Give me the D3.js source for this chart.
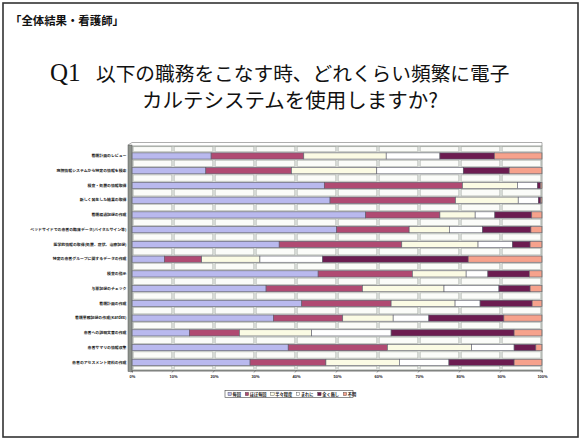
<!DOCTYPE html>
<html>
<head>
<meta charset="utf-8">
<script src="https://cdn.jsdelivr.net/npm/d3@7/dist/d3.min.js"></script>
<style>
  html, body { margin: 0; padding: 0; background: #fff; }
  svg { display: block; }
</style>
</head>
<body>
<svg id="chart" width="582" height="447"></svg>
<script>
// Tasks asked about (top to bottom)
const categories = [
  "看護計画のレビュー",
  "病院情報システムから特定の情報を検索",
  "検査・処置の情報取得",
  "新しく発生した結果の取得",
  "看護経過記録の作成",
  "ベッドサイドでの患者の臨床データ(バイタルサイン等)",
  "医学的情報の取得(処置、症状、治療記録)",
  "特定の患者グループに関するデータの作成",
  "検査の指示",
  "与薬記録のチェック",
  "看護計画の作成",
  "看護業務記録の作成(Kardex)",
  "患者への説明文書の作成",
  "患者サマリの情報収集",
  "患者のアセスメント資料の作成"
];

// Answer shares (%) per frequency, one array per answer
const seriesNames = ["毎回", "ほぼ毎回", "半々程度", "まれに", "全く無し", "不明"];
const everyTime    = [19.3, 18.0, 46.9, 48.3, 57.0, 49.9, 35.9,  7.9, 45.4, 32.7, 41.4, 34.5, 14.0, 38.1, 28.8];
const almostAlways = [22.6, 20.9, 33.7, 30.6, 18.1, 17.7, 29.9,  9.1, 23.0, 23.5, 21.8, 16.9, 12.2, 24.2, 18.5];
const halfTheTime  = [20.1, 20.8, 13.4, 15.3,  8.6,  9.8, 18.6, 14.2, 13.1, 19.9, 15.6, 12.3, 17.6, 20.5, 17.9];
const rarely       = [13.1, 21.1,  4.9,  4.9,  4.8,  8.1,  8.4, 15.3,  5.3, 13.4,  6.1,  8.7, 19.4, 10.4, 12.1];
const never        = [13.3, 11.2,  0.7,  0.6,  9.0, 11.8,  4.3, 35.5, 10.1,  7.6, 12.7, 18.3, 30.0,  5.3, 15.9];
const unknown      = [11.6,  8.0,  0.4,  0.3,  2.5,  2.7,  2.9, 18.0,  3.1,  2.9,  2.4,  9.3,  6.8,  1.5,  6.8];
const seriesValues = [everyTime, almostAlways, halfTheTime, rarely, never, unknown];
const seriesColors = ["#b9b9ee", "#b04a72", "#fbfbe4", "#ffffff", "#6c1c50", "#f6a28c"];

const tickValues = [0, 0.1, 0.2, 0.3, 0.4, 0.5, 0.6, 0.7, 0.8, 0.9, 1.0];

const svg = d3.select("#chart");
const CJK = "'Noto Sans CJK JP', 'Noto Sans', sans-serif";

// Slide frame
svg.append("rect")
  .attr("x", 3).attr("y", 3).attr("width", 575).attr("height", 434)
  .attr("fill", "#fff").attr("stroke", "#333").attr("stroke-width", 1.6);

// Headline
svg.append("text")
  .attr("x", 10).attr("y", 25)
  .attr("font-family", CJK).attr("font-size", 11.4).attr("font-weight", 700)
  .attr("fill", "#111")
  .text("「全体結果・看護師」");

// Question title
const title = svg.append("text")
  .attr("font-family", CJK).attr("fill", "#111");
title.append("tspan").attr("x", 50).attr("y", 81)
  .attr("font-family", "'Liberation Serif', serif").attr("font-size", 25).text("Q1");
title.append("tspan").attr("x", 96).attr("y", 81).attr("font-size", 19.7)
  .text("以下の職務をこなす時、どれくらい頻繁に電子");
svg.append("text")
  .attr("x", 290).attr("y", 108).attr("text-anchor", "middle")
  .attr("font-family", CJK).attr("font-size", 20.5).attr("fill", "#111")
  .text("カルテシステムを使用しますか?");

// Scales
const x = d3.scaleLinear().domain([0, 1]).range([132, 542]);
const y = d3.scaleBand().domain(categories).range([148.6, 369.7])
  .paddingInner(0.58).paddingOuter(0.29);

// Stack rows of the table built from the series arrays
const rows = categories.map((c, i) => {
  const r = { category: c };
  seriesNames.forEach((s, k) => { r[s] = seriesValues[k][i]; });
  return r;
});
const stacked = d3.stack().keys(seriesNames).offset(d3.stackOffsetExpand)(rows);

// Plot back wall
const plotTop = 146, plotBottom = 370.5;
svg.append("rect")
  .attr("x", x(0)).attr("y", plotTop)
  .attr("width", x(1) - x(0)).attr("height", plotBottom - plotTop)
  .attr("fill", "#d9ddd8");

// Light cells between bars, split by the 10% gridlines
const bw = y.bandwidth();
const gapEdges = [];
gapEdges.push([plotTop + 0.8, y(categories[0]) - 1.2]);
for (let i = 0; i < categories.length - 1; i++) {
  gapEdges.push([y(categories[i]) + bw + 1.2, y(categories[i + 1]) - 1.2]);
}
gapEdges.push([y(categories[categories.length - 1]) + bw + 1.2, plotBottom - 0.8]);
const cells = [];
gapEdges.forEach(([a, b]) => {
  for (let k = 0; k < 10; k++) cells.push({ y0: a, y1: b, v0: tickValues[k], v1: tickValues[k + 1] });
});
svg.append("g").selectAll("rect").data(cells).join("rect")
  .attr("x", d => x(d.v0) + 1.2)
  .attr("y", d => d.y0)
  .attr("width", d => x(d.v1) - x(d.v0) - 2.4)
  .attr("height", d => Math.max(0, d.y1 - d.y0))
  .attr("fill", "#fbfcf9").attr("stroke", "#a9aea8").attr("stroke-width", 0.5);

// Left side wall
svg.append("rect")
  .attr("x", x(0) - 4).attr("y", plotTop - 1).attr("width", 4).attr("height", plotBottom - plotTop + 2)
  .attr("fill", "#8e938d").attr("stroke", "#555").attr("stroke-width", 0.5);
svg.append("path")
  .attr("d", `M${x(0) - 4},${plotTop - 1} L${x(0)},${plotTop - 3.5} L${x(1)},${plotTop - 3.5} L${x(1)},${plotTop}`)
  .attr("fill", "none").attr("stroke", "#777").attr("stroke-width", 0.6);

// Stacked bars
svg.append("g").selectAll("g").data(stacked).join("g")
  .attr("fill", (d, i) => seriesColors[i])
  .selectAll("rect").data(d => d).join("rect")
  .attr("x", d => x(d[0]))
  .attr("y", d => y(d.data.category))
  .attr("width", d => Math.max(0, x(d[1]) - x(d[0])))
  .attr("height", bw)
  .attr("stroke", "#5c5c6a").attr("stroke-width", 0.6);

// Plot outline
svg.append("rect")
  .attr("x", x(0)).attr("y", plotTop)
  .attr("width", x(1) - x(0)).attr("height", plotBottom - plotTop)
  .attr("fill", "none").attr("stroke", "#7d827c").attr("stroke-width", 0.7);

// Category axis
const yAxis = svg.append("g")
  .attr("transform", `translate(${x(0) - 4},0)`)
  .call(d3.axisLeft(y).tickSize(0).tickPadding(1.5));
yAxis.select(".domain").remove();
yAxis.selectAll("text")
  .attr("font-family", CJK).attr("font-size", 3.9).attr("font-weight", 700).attr("fill", "#222");

// Percentage axis
const xAxis = svg.append("g")
  .attr("transform", `translate(0,${plotBottom})`)
  .call(d3.axisBottom(x).tickValues(tickValues).tickFormat(d3.format(".0%")).tickSize(2).tickPadding(3));
xAxis.select(".domain").attr("stroke", "#555").attr("stroke-width", 0.8);
xAxis.selectAll(".tick line").attr("stroke", "#555").attr("stroke-width", 0.6)
  .attr("x2", -1.5);
xAxis.selectAll("text")
  .attr("font-family", "'Liberation Sans', sans-serif").attr("font-size", 4).attr("font-weight", 700).attr("fill", "#222");

// Legend
const legend = svg.append("g").attr("transform", "translate(225,390.5)");
legend.append("rect").attr("width", 128).attr("height", 7)
  .attr("fill", "#fff").attr("stroke", "#444").attr("stroke-width", 0.6);
let lx = 3;
seriesNames.forEach((name, i) => {
  legend.append("rect").attr("x", lx).attr("y", 1.8).attr("width", 3.4).attr("height", 3.4)
    .attr("fill", seriesColors[i]).attr("stroke", "#444").attr("stroke-width", 0.4);
  const t = legend.append("text").attr("x", lx + 4.6).attr("y", 5.1)
    .attr("font-family", CJK).attr("font-size", 4.2).attr("font-weight", 700).attr("fill", "#222")
    .text(name);
  lx += 4.6 + t.node().getComputedTextLength() + 4.2;
});
</script>
</body>
</html>
